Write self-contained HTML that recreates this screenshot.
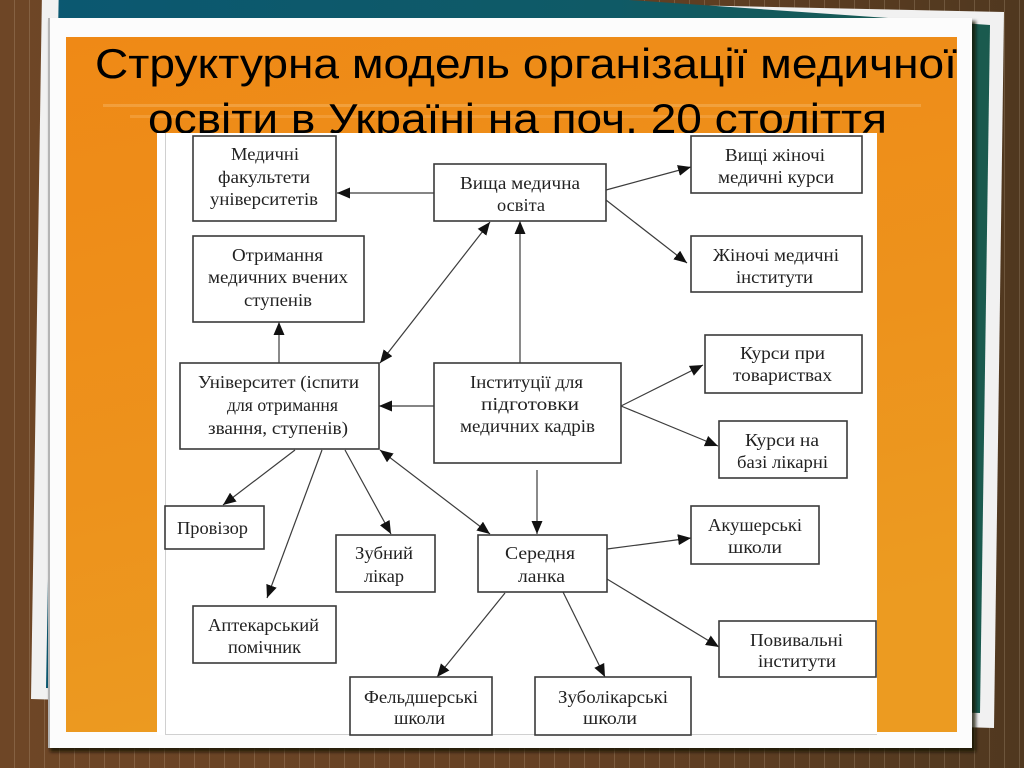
<!DOCTYPE html>
<html>
<head>
<meta charset="utf-8">
<style>
  html,body{margin:0;padding:0;width:1024px;height:768px;overflow:hidden;background:#5e3f22;}
  svg{display:block;}
  .t{font-family:"Liberation Serif","Noto Serif CJK SC",serif;font-size:18px;fill:#222;}
  .title{font-family:"Liberation Sans","Noto Sans CJK SC",sans-serif;font-size:42px;fill:#000;}
  .box{fill:#fff;stroke:#3a3a3a;stroke-width:1.6;}
  .ln{stroke:#3c3c3c;stroke-width:1.2;fill:none;}
</style>
</head>
<body>
<svg width="1024" height="768" viewBox="0 0 1024 768" xmlns="http://www.w3.org/2000/svg">
  <defs>
    <linearGradient id="bgGrad" x1="0" y1="0" x2="1" y2="0">
      <stop offset="0" stop-color="#6e4626"/>
      <stop offset="0.55" stop-color="#654124"/>
      <stop offset="1" stop-color="#50381f"/>
    </linearGradient>
    <pattern id="stripes" x="0" y="0" width="15" height="768" patternUnits="userSpaceOnUse">
      <rect x="14" y="0" width="1" height="768" fill="rgba(255,235,210,0.16)"/>
    </pattern>
    <linearGradient id="tealGrad" x1="0" y1="0" x2="1" y2="0">
      <stop offset="0" stop-color="#0b5871"/>
      <stop offset="0.6" stop-color="#0f5a66"/>
      <stop offset="1" stop-color="#1a5a4e"/>
    </linearGradient>
    <linearGradient id="orGrad" x1="0" y1="0" x2="0.3" y2="1">
      <stop offset="0" stop-color="#ef8916"/>
      <stop offset="0.6" stop-color="#ed921c"/>
      <stop offset="1" stop-color="#ec9b21"/>
    </linearGradient>
    <filter id="sh" x="-5%" y="-5%" width="110%" height="110%">
      <feGaussianBlur stdDeviation="1.5"/>
    </filter>
    <marker id="ar" markerUnits="userSpaceOnUse" markerWidth="13" markerHeight="11" refX="13" refY="5.5" orient="auto-start-reverse" viewBox="0 0 13 11">
      <path d="M0,0 L13,5.5 L0,11 z" fill="#111"/>
    </marker>
  </defs>

  <!-- wooden background -->
  <rect x="0" y="0" width="1024" height="768" fill="url(#bgGrad)"/>
  <rect x="0" y="0" width="1024" height="768" fill="url(#stripes)"/>

  <!-- back white paper -->
  <polygon points="42,-9 1004,12 994,728 31,699" fill="#f1f1f1"/>
  <!-- teal paper -->
  <polygon points="59,-20 340,-20 990,25 980,713 46,688" fill="url(#tealGrad)"/>

  <!-- front frame shadow and frame -->
  <rect x="50" y="21" width="926" height="731" fill="rgba(20,12,5,0.75)" filter="url(#sh)"/>
  <rect x="48" y="18" width="924" height="730" fill="#fcfcfc"/>
  <rect x="48" y="18" width="2" height="730" fill="#b5b5b5"/>

  <!-- orange area -->
  <rect x="66" y="37" width="891" height="695" fill="url(#orGrad)"/>
  <rect x="103" y="104" width="818" height="3" fill="rgba(255,230,190,0.22)"/>
  <rect x="130" y="115" width="700" height="3" fill="rgba(255,230,190,0.18)"/>

  <!-- title -->
  <text class="title" x="95" y="78" textLength="862" lengthAdjust="spacingAndGlyphs">Структурна модель організації медичної</text>
  <text class="title" x="148" y="133" textLength="739" lengthAdjust="spacingAndGlyphs">освіти в Україні на поч. 20 століття</text>

  <!-- diagram panel -->
  <rect x="157" y="133" width="720" height="602" fill="#ffffff"/>
  <rect x="165" y="133" width="1" height="602" fill="#d0d0d0"/>
  <rect x="165" y="734" width="712" height="1" fill="#d0d0d0"/>

  <!-- connectors -->
  <line class="ln" x1="434" y1="193" x2="337" y2="193" marker-end="url(#ar)"/>
  <line class="ln" x1="490" y1="222" x2="380" y2="363" marker-start="url(#ar)" marker-end="url(#ar)"/>
  <line class="ln" x1="279" y1="363" x2="279" y2="322" marker-end="url(#ar)"/>
  <line class="ln" x1="434" y1="406" x2="379" y2="406" marker-end="url(#ar)"/>
  <line class="ln" x1="520" y1="363" x2="520" y2="221" marker-end="url(#ar)"/>
  <line class="ln" x1="606" y1="190" x2="691" y2="167" marker-end="url(#ar)"/>
  <line class="ln" x1="606" y1="200" x2="687" y2="263" marker-end="url(#ar)"/>
  <line class="ln" x1="621" y1="406" x2="703" y2="365" marker-end="url(#ar)"/>
  <line class="ln" x1="621" y1="406" x2="718" y2="446" marker-end="url(#ar)"/>
  <line class="ln" x1="295" y1="450" x2="223" y2="505" marker-end="url(#ar)"/>
  <line class="ln" x1="322" y1="450" x2="267" y2="598" marker-end="url(#ar)"/>
  <line class="ln" x1="345" y1="450" x2="391" y2="534" marker-end="url(#ar)"/>
  <line class="ln" x1="380" y1="450" x2="490" y2="534" marker-start="url(#ar)" marker-end="url(#ar)"/>
  <line class="ln" x1="537" y1="470" x2="537" y2="534" marker-end="url(#ar)"/>
  <line class="ln" x1="505" y1="593" x2="437" y2="677" marker-end="url(#ar)"/>
  <line class="ln" x1="563" y1="592" x2="605" y2="677" marker-end="url(#ar)"/>
  <line class="ln" x1="607" y1="549" x2="691" y2="538" marker-end="url(#ar)"/>
  <line class="ln" x1="607" y1="579" x2="719" y2="647" marker-end="url(#ar)"/>

  <!-- boxes -->
  <rect class="box" x="193" y="136" width="143" height="85"/>
  <rect class="box" x="434" y="164" width="172" height="57"/>
  <rect class="box" x="193" y="236" width="171" height="86"/>
  <rect class="box" x="180" y="363" width="199" height="86"/>
  <rect class="box" x="434" y="363" width="187" height="100"/>
  <rect class="box" x="691" y="136" width="171" height="57"/>
  <rect class="box" x="691" y="236" width="171" height="56"/>
  <rect class="box" x="705" y="335" width="157" height="58"/>
  <rect class="box" x="719" y="421" width="128" height="57"/>
  <rect class="box" x="165" y="506" width="99" height="43"/>
  <rect class="box" x="336" y="535" width="99" height="57"/>
  <rect class="box" x="193" y="606" width="143" height="57"/>
  <rect class="box" x="478" y="535" width="129" height="57"/>
  <rect class="box" x="350" y="677" width="142" height="58"/>
  <rect class="box" x="535" y="677" width="156" height="58"/>
  <rect class="box" x="691" y="506" width="128" height="58"/>
  <rect class="box" x="719" y="621" width="157" height="56"/>

  <!-- box text -->
  <text class="t" x="231" y="160" textLength="68" lengthAdjust="spacingAndGlyphs">Медичні</text>
  <text class="t" x="218" y="183" textLength="92" lengthAdjust="spacingAndGlyphs">факультети</text>
  <text class="t" x="210" y="205" textLength="108" lengthAdjust="spacingAndGlyphs">університетів</text>

  <text class="t" x="460" y="189" textLength="120" lengthAdjust="spacingAndGlyphs">Вища медична</text>
  <text class="t" x="497" y="211" textLength="48" lengthAdjust="spacingAndGlyphs">освіта</text>

  <text class="t" x="232" y="261" textLength="91" lengthAdjust="spacingAndGlyphs">Отримання</text>
  <text class="t" x="208" y="283" textLength="140" lengthAdjust="spacingAndGlyphs">медичних вчених</text>
  <text class="t" x="244" y="306" textLength="68" lengthAdjust="spacingAndGlyphs">ступенів</text>

  <text class="t" x="198" y="388" textLength="161" lengthAdjust="spacingAndGlyphs">Університет (іспити</text>
  <text class="t" x="227" y="411" textLength="111" lengthAdjust="spacingAndGlyphs">для отримання</text>
  <text class="t" x="208" y="434" textLength="140" lengthAdjust="spacingAndGlyphs">звання, ступенів)</text>

  <text class="t" x="470" y="388" textLength="113" lengthAdjust="spacingAndGlyphs">Інституції для</text>
  <text class="t" x="481" y="410" textLength="98" lengthAdjust="spacingAndGlyphs">підготовки</text>
  <text class="t" x="460" y="432" textLength="135" lengthAdjust="spacingAndGlyphs">медичних кадрів</text>

  <text class="t" x="725" y="161" textLength="100" lengthAdjust="spacingAndGlyphs">Вищі жіночі</text>
  <text class="t" x="718" y="183" textLength="116" lengthAdjust="spacingAndGlyphs">медичні курси</text>

  <text class="t" x="713" y="261" textLength="126" lengthAdjust="spacingAndGlyphs">Жіночі медичні</text>
  <text class="t" x="736" y="283" textLength="77" lengthAdjust="spacingAndGlyphs">інститути</text>

  <text class="t" x="740" y="359" textLength="85" lengthAdjust="spacingAndGlyphs">Курси при</text>
  <text class="t" x="733" y="381" textLength="99" lengthAdjust="spacingAndGlyphs">товариствах</text>

  <text class="t" x="745" y="446" textLength="74" lengthAdjust="spacingAndGlyphs">Курси на</text>
  <text class="t" x="737" y="468" textLength="91" lengthAdjust="spacingAndGlyphs">базі лікарні</text>

  <text class="t" x="177" y="534" textLength="71" lengthAdjust="spacingAndGlyphs">Провізор</text>

  <text class="t" x="355" y="559" textLength="58" lengthAdjust="spacingAndGlyphs">Зубний</text>
  <text class="t" x="364" y="582" textLength="40" lengthAdjust="spacingAndGlyphs">лікар</text>

  <text class="t" x="208" y="631" textLength="111" lengthAdjust="spacingAndGlyphs">Аптекарський</text>
  <text class="t" x="228" y="653" textLength="73" lengthAdjust="spacingAndGlyphs">помічник</text>

  <text class="t" x="505" y="559" textLength="70" lengthAdjust="spacingAndGlyphs">Середня</text>
  <text class="t" x="518" y="582" textLength="47" lengthAdjust="spacingAndGlyphs">ланка</text>

  <text class="t" x="364" y="703" textLength="114" lengthAdjust="spacingAndGlyphs">Фельдшерські</text>
  <text class="t" x="394" y="724" textLength="51" lengthAdjust="spacingAndGlyphs">школи</text>

  <text class="t" x="558" y="703" textLength="110" lengthAdjust="spacingAndGlyphs">Зуболікарські</text>
  <text class="t" x="583" y="724" textLength="54" lengthAdjust="spacingAndGlyphs">школи</text>

  <text class="t" x="708" y="531" textLength="94" lengthAdjust="spacingAndGlyphs">Акушерські</text>
  <text class="t" x="728" y="553" textLength="54" lengthAdjust="spacingAndGlyphs">школи</text>

  <text class="t" x="750" y="646" textLength="93" lengthAdjust="spacingAndGlyphs">Повивальні</text>
  <text class="t" x="758" y="667" textLength="78" lengthAdjust="spacingAndGlyphs">інститути</text>
</svg>
</body>
</html>
